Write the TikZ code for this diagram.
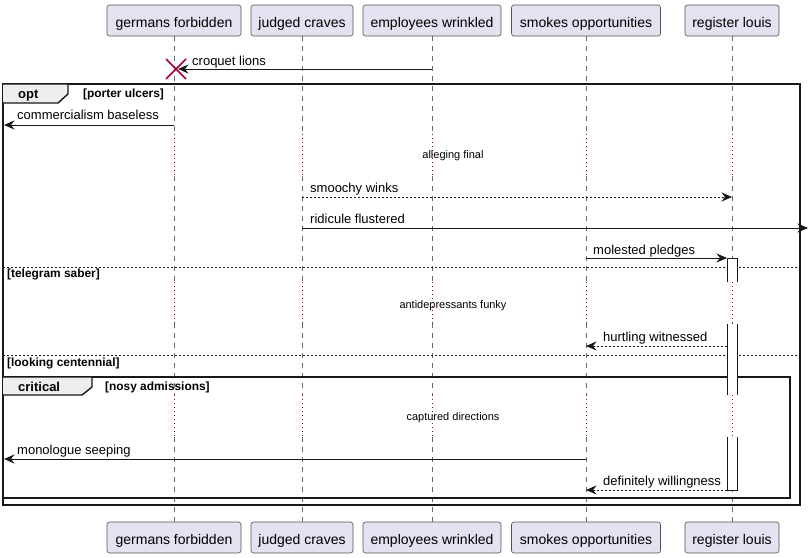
\documentclass[tikz,border=0pt]{standalone}
\usepackage{fontspec}
\setmainfont{Liberation Sans}
\usetikzlibrary{arrows.meta}
\definecolor{partfill}{HTML}{E2E2F0}
\definecolor{partline}{HTML}{181818}
\definecolor{delayred}{HTML}{A80036}
\definecolor{tabfill}{HTML}{EEEEEE}
\begin{document}
\begin{tikzpicture}[x=1pt,y=-1pt,
  part/.style={draw=partline!75, fill=partfill, rounded corners=2.5pt, line width=0.6pt,
    minimum height=31pt, inner sep=0pt, text height=14.5pt, text depth=0pt,
    font=\fontsize{14}{16}\selectfont},
  life/.style={draw=partline!65, line width=0.5pt, dash pattern=on 5pt off 5pt},
  delayl/.style={draw=delayred, line width=0.8pt, dash pattern=on 1pt off 3pt},
  msg/.style={draw=partline, line width=0.8pt, -{Stealth[length=10.5pt,width=9pt,inset=3.5pt]}},
  ret/.style={msg, dash pattern=on 2pt off 2pt},
  mlabel/.style={anchor=base west, inner sep=0pt, font=\fontsize{13}{15}\selectfont},
  dlabel/.style={anchor=base, inner sep=0pt, font=\fontsize{11}{13}\selectfont},
  glabel/.style={anchor=base west, inner sep=0pt, font=\bfseries\fontsize{11.9}{14}\selectfont},
  flabel/.style={anchor=base west, inner sep=0pt, font=\bfseries\fontsize{13}{15}\selectfont},
  frame/.style={draw=partline, line width=1.4pt},
  sep/.style={draw=partline, line width=0.7pt, dash pattern=on 2pt off 2pt},
  actbox/.style={draw=partline, fill=white, line width=0.8pt},
]
\useasboundingbox (0,0) rectangle (810,557);

% participants
\node[part, minimum width=134pt] (gT) at (174,20.5) {germans forbidden};
\node[part, minimum width=102pt] (jT) at (302,20.5) {judged craves};
\node[part, minimum width=138pt] (eT) at (432,20.5) {employees wrinkled};
\node[part, minimum width=149pt] (sT) at (586,20.5) {smokes opportunities};
\node[part, minimum width=94pt]  (rT) at (732,20.5) {register louis};
\node[part, minimum width=134pt] (gB) at (174,537.5) {germans forbidden};
\node[part, minimum width=102pt] (jB) at (302,537.5) {judged craves};
\node[part, minimum width=138pt] (eB) at (432,537.5) {employees wrinkled};
\node[part, minimum width=149pt] (sB) at (586,537.5) {smokes opportunities};
\node[part, minimum width=94pt]  (rB) at (732,537.5) {register louis};

% lifelines
\foreach \p in {g,j,e,s,r}{
  \draw[life] (\p T.south) -- (\p T.south |- 0,134);
  \draw[delayl] (\p T.south |- 0,134) -- (\p T.south |- 0,176);
  \draw[life] (\p T.south |- 0,176) -- (\p T.south |- 0,282);
  \draw[delayl] (\p T.south |- 0,282) -- (\p T.south |- 0,323);
  \draw[life] (\p T.south |- 0,323) -- (\p T.south |- 0,395);
  \draw[delayl] (\p T.south |- 0,395) -- (\p T.south |- 0,437);
  \draw[life] (\p T.south |- 0,437) -- (\p B.north);
}

% opt frame
\draw[frame] (3,84) rectangle (800,505);
\draw[frame, fill=tabfill] (3,84) -- (68,84) -- (68,94) -- (58,103) -- (3,103);
\node[flabel] (optl) at (18,98) {opt};
\node[glabel] (optg) at (83,97) {[porter ulcers]};

% critical frame
\draw[frame] (3,377) rectangle (790,498);
\draw[frame, fill=tabfill] (3,377) -- (92,377) -- (92,387) -- (82,395) -- (3,395);
\node[flabel] (critl) at (18,391.5) {critical};
\node[glabel] (critg) at (105,390.5) {[nosy admissions]};

% separators
\draw[sep] (3,267) -- (800,267);
\node[glabel] (sep1) at (7,277.5) {[telegram saber]};
\draw[sep] (3,355) -- (800,355);
\node[glabel] (sep2) at (7,366.5) {[looking centennial]};

% activation box
\fill[white] (727,258) rectangle (737,282);
\draw[actbox] (727,282) -- (727,258) -- (737,258) -- (737,282);
\fill[white] (727,324) rectangle (737,395);
\draw[actbox] (727,324) -- (727,395);
\draw[actbox] (737,324) -- (737,395);
\fill[white] (727,437) rectangle (737,490);
\draw[actbox] (727,437) -- (727,490) -- (737,490) -- (737,437);

% coordinates
\coordinate (e1) at (432,69);
\coordinate (g1) at (178,69);
\coordinate (g2) at (174,125);
\coordinate (L2) at (4,125);
\coordinate (j4) at (302,197);
\coordinate (r4) at (732,197);
\coordinate (j5) at (302,228);
\coordinate (R5) at (808,228);
\coordinate (s6) at (586,258);
\coordinate (r6) at (727,258);
\coordinate (r9) at (727,346);
\coordinate (s9) at (586,346);
\coordinate (s13) at (586,459);
\coordinate (L13) at (4,459);
\coordinate (r14) at (727,490);
\coordinate (s14) at (586,490);

% destroy X
\draw[delayred, line width=1.6pt] (166,59) -- (186,79) (166,79) -- (186,59);

% messages
\draw[msg] (e1) -- (g1);
\node[mlabel] at (192,65) {croquet lions};
\draw[msg] (g2) -- (L2);
\node[mlabel] at (17,119.5) {commercialism baseless};
\node[dlabel] at (453,158.5) {alleging final};
\draw[ret] (j4) -- (r4);
\node[mlabel] at (310,192.5) {smoochy winks};
\draw[msg] (j5) -- (R5);
\node[mlabel] at (310,223.5) {ridicule flustered};
\draw[msg] (s6) -- (r6);
\node[mlabel] at (593,254) {molested pledges};
\node[dlabel] at (453,308) {antidepressants funky};
\draw[ret] (r9) -- (s9);
\node[mlabel] at (603,341.5) {hurtling witnessed};
\node[dlabel] at (453,420) {captured directions};
\draw[msg] (s13) -- (L13);
\node[mlabel] at (17,454.5) {monologue seeping};
\draw[ret] (r14) -- (s14);
\node[mlabel] at (603,485.5) {definitely willingness};
\end{tikzpicture}
\end{document}
